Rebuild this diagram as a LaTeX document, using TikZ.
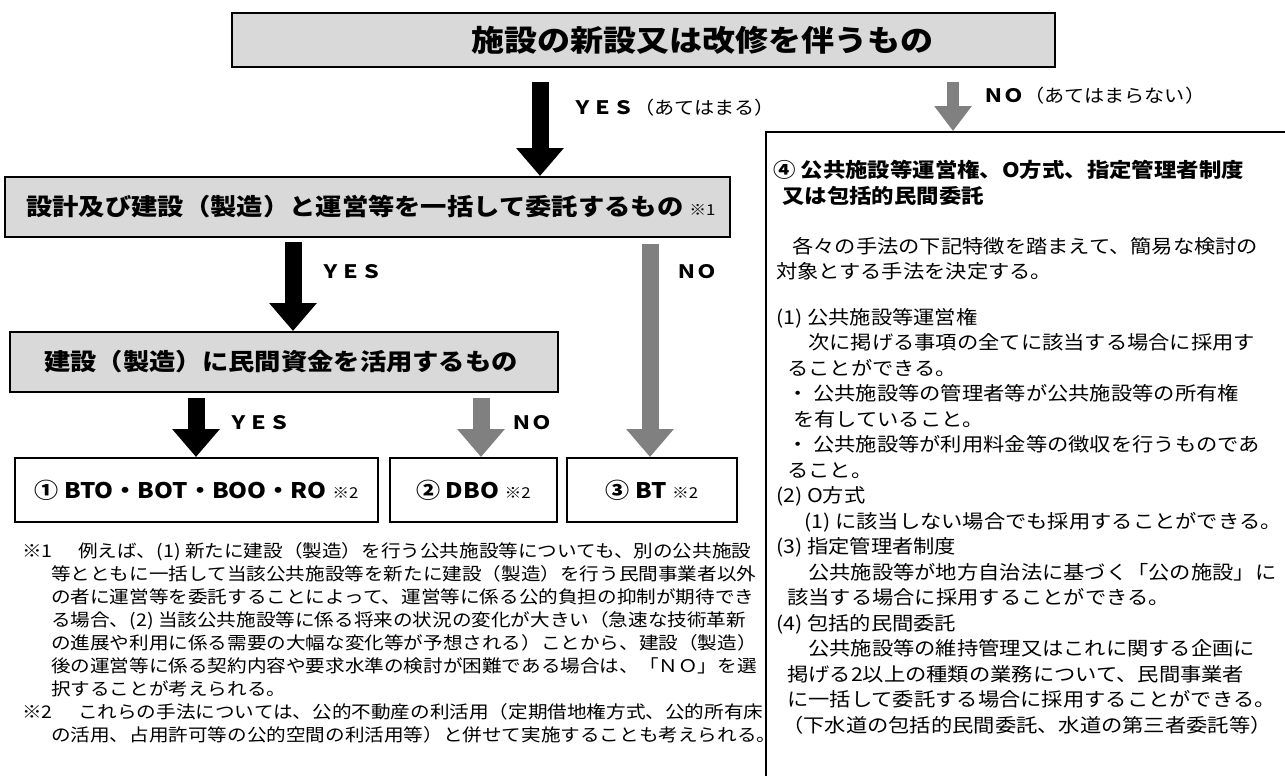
\documentclass[tikz,border=0pt]{standalone}
\usepackage{fontspec}
\setmainfont{Noto Sans CJK JP}[FakeStretch=1.12]
\usetikzlibrary{arrows.meta}
\definecolor{boxgray}{HTML}{D9D9D9}
\definecolor{arrgray}{HTML}{808080}
\tikzset{
  gbox/.style={draw=black, line width=2pt, fill=boxgray, inner sep=0pt},
  wbox/.style={draw=black, line width=2pt, fill=white, inner sep=0pt},
  blkarrow/.style={draw=black, line width=17pt, -{Triangle[width=46pt,length=28pt]}},
  gryarrow/.style={draw=arrgray, line width=17pt, -{Triangle[width=46pt,length=28pt]}, arrgray},
  smallgry/.style={draw=arrgray, line width=12pt, -{Triangle[width=36pt,length=25pt]}, arrgray},
  lab/.style={anchor=west, inner sep=0pt},
  txt/.style={anchor=north west, inner sep=0pt, align=left},
}
\newcommand{\yesl}{{\fontsize{18.5}{20}\selectfont\bfseries ＹＥＳ}}
\newcommand{\nol}{{\fontsize{18.5}{20}\selectfont\bfseries ＮＯ}}
\newcommand{\kome}[1]{{\fontsize{15}{16}\selectfont\normalfont ※#1}}
\begin{document}
\begin{tikzpicture}[x=1pt,y=-1pt]
\useasboundingbox (0,0) rectangle (1285,776);
% boxes
\node[gbox, minimum width=823pt, minimum height=54pt] (title) at (643.5,40) {};
\node[lab] (titlet) at (471,40)
  {\fontsize{29.5}{32}\selectfont\bfseries 施設の新設又は改修を伴うもの};
\node[gbox, minimum width=725pt, minimum height=60pt] (box2) at (367.5,207) {};
\node[lab] (box2t) at (26,207)
  {\fontsize{23.5}{26}\selectfont\bfseries 設計及び建設（製造）と運営等を一括して委託するもの\ \kome{1}};
\node[gbox, minimum width=548pt, minimum height=60pt] (box3) at (284,362) {};
\node[lab] (box3t) at (44,362)
  {\fontsize{23.5}{26}\selectfont\bfseries 建設（製造）に民間資金を活用するもの};
\node[wbox, minimum width=363pt, minimum height=64pt] (r1) at (196.5,490)
  {\fontsize{21.5}{24}\selectfont\bfseries ①\ BTO・BOT・BOO・RO\ \kome{2}};
\node[wbox, minimum width=167pt, minimum height=64pt] (r2) at (473.5,490)
  {\fontsize{21.5}{24}\selectfont\bfseries ②\ DBO\ \kome{2}};
\node[wbox, minimum width=170pt, minimum height=64pt] (r3) at (652,490)
  {\fontsize{21.5}{24}\selectfont\bfseries ③\ BT\ \kome{2}};
\node[draw=black, line width=2pt, anchor=north west, minimum width=560pt, minimum height=700pt] (panel) at (765,131) {};
% arrow start points
\coordinate (sA) at (540,82);
\coordinate (sB) at (953,82);
\coordinate (sC) at (293,242);
\coordinate (sD) at (650,244);
\coordinate (sE) at (196,398);
\coordinate (sF) at (481,398);
\draw[blkarrow] (sA) -- (sA |- box2.north);
\draw[smallgry] (sB) -- (sB |- panel.north);
\draw[blkarrow] (sC) -- (sC |- box3.north);
\draw[gryarrow] (sD) -- (sD |- r3.north);
\draw[blkarrow] (sE) -- (sE |- r1.north);
\draw[gryarrow] (sF) -- (sF |- r2.north);
% labels
\node[lab] (lA) at (572,108) {\yesl{\fontsize{18}{20}\selectfont（あてはまる）}};
\node[lab] (lB) at (983,96) {\nol{\fontsize{18}{20}\selectfont（あてはまらない）}};
\node[lab] (lC) at (320,272) {\yesl};
\node[lab] (lD) at (676,272) {\nol};
\node[lab] (lE) at (228,423) {\yesl};
\node[lab] (lF) at (511,423) {\nol};
% right panel text
\node[txt, font=\fontsize{20}{26}\selectfont\bfseries] (head) at (773,160)
  {④\ 公共施設等運営権、O方式、指定管理者制度\\
   \hspace*{9pt}又は包括的民間委託};
\node[txt, font=\fontsize{19}{25.5}\selectfont] (body) at (776,237)
  {\hspace*{16pt}各々の手法の下記特徴を踏まえて、簡易な検討の\\
   対象とする手法を決定する。\\[20pt]
   (1) 公共施設等運営権\\
   \hspace*{32pt}次に掲げる事項の全てに該当する場合に採用す\\
   \hspace*{11pt}ることができる。\\
   \hspace*{11pt}・ 公共施設等の管理者等が公共施設等の所有権\\
   \hspace*{17pt}を有していること。\\
   \hspace*{11pt}・ 公共施設等が利用料金等の徴収を行うものであ\\
   \hspace*{11pt}ること。\\
   (2) O方式\\
   \hspace*{28pt}(1) に該当しない場合でも採用することができる。\\
   (3) 指定管理者制度\\
   \hspace*{32pt}公共施設等が地方自治法に基づく「公の施設」に\\
   \hspace*{11pt}該当する場合に採用することができる。\\
   (4) 包括的民間委託\\
   \hspace*{32pt}公共施設等の維持管理又はこれに関する企画に\\
   \hspace*{11pt}掲げる2以上の種類の業務について、民間事業者\\
   \hspace*{11pt}に一括して委託する場合に採用することができる。\\
   \hspace*{6pt}（下水道の包括的民間委託、水道の第三者委託等）};
% footnotes
\node[txt, font=\fontsize{17.5}{23}\selectfont] (notes) at (22,542)
  {\makebox[56pt][l]{※1}例えば、(1) 新たに建設（製造）を行う公共施設等についても、別の公共施設\\
   \hspace*{29pt}等とともに一括して当該公共施設等を新たに建設（製造）を行う民間事業者以外\\
   \hspace*{29pt}の者に運営等を委託することによって、運営等に係る公的負担の抑制が期待でき\\
   \hspace*{29pt}る場合、(2) 当該公共施設等に係る将来の状況の変化が大きい（急速な技術革新\\
   \hspace*{29pt}の進展や利用に係る需要の大幅な変化等が予想される）ことから、建設（製造）\\
   \hspace*{29pt}後の運営等に係る契約内容や要求水準の検討が困難である場合は、「ＮＯ」を選\\
   \hspace*{29pt}択することが考えられる。\\
   \makebox[56pt][l]{※2}これらの手法については、公的不動産の利活用（定期借地権方式、公的所有床\\
   \hspace*{29pt}の活用、占用許可等の公的空間の利活用等）と併せて実施することも考えられる。};
\end{tikzpicture}
\end{document}
